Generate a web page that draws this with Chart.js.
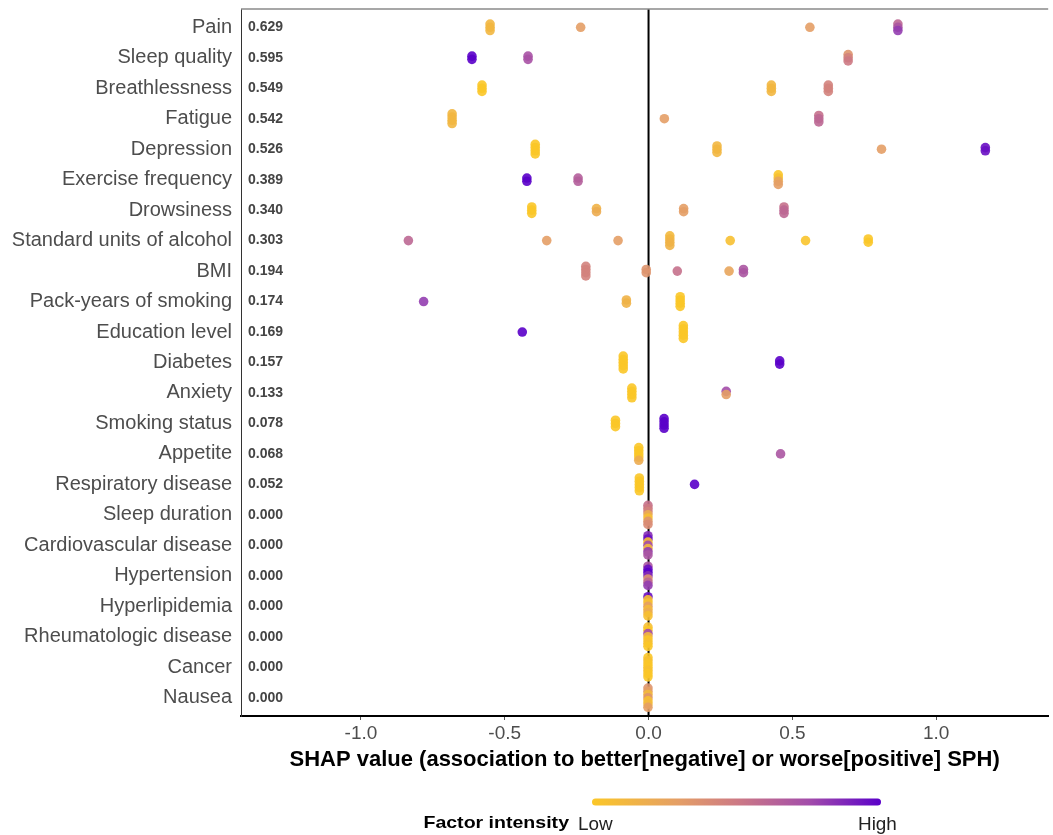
<!DOCTYPE html>
<html>
<head>
<meta charset="utf-8">
<script src="https://cdn.jsdelivr.net/npm/chart.js@4/dist/chart.umd.min.js"></script>
<style>
html, body { margin: 0; padding: 0; background: #fff; overflow: hidden; }
canvas { display: block; }
</style>
</head>
<body>
<canvas id="shap_chart" width="1053" height="835"></canvas>
<script>
// features, top to bottom
const FEATURES = ['Pain', 'Sleep quality', 'Breathlessness', 'Fatigue', 'Depression',
    'Exercise frequency', 'Drowsiness', 'Standard units of alcohol', 'BMI',
    'Pack-years of smoking', 'Education level', 'Diabetes', 'Anxiety', 'Smoking status',
    'Appetite', 'Respiratory disease', 'Sleep duration', 'Cardiovascular disease',
    'Hypertension', 'Hyperlipidemia', 'Rheumatologic disease', 'Cancer', 'Nausea'];
// mean |SHAP| printed next to the axis
const IMPORTANCE = ['0.629', '0.595', '0.549', '0.542', '0.526', '0.389', '0.340', '0.303',
    '0.194', '0.174', '0.169', '0.157', '0.133', '0.078', '0.068', '0.052',
    '0.000', '0.000', '0.000', '0.000', '0.000', '0.000', '0.000'];
const X_TICKS = [-1.0, -0.5, 0.0, 0.5, 1.0];

// SHAP value of each group of points per feature
const SHAP = [
    [-0.551, -0.236, 0.561, 0.867],
    [-0.614, -0.419, 0.694],
    [-0.579, 0.427, 0.625],
    [-0.683, 0.055, 0.592],
    [-0.394, 0.238, 0.81, 1.171],
    [-0.423, -0.245, 0.451],
    [-0.406, -0.181, 0.122, 0.471],
    [-0.835, -0.354, -0.106, 0.074, 0.284, 0.546, 0.764],
    [-0.218, -0.008, 0.1, 0.28, 0.33],
    [-0.782, -0.077, 0.11],
    [-0.439, 0.121],
    [-0.088, 0.456],
    [-0.058, 0.27],
    [-0.115, 0.054],
    [-0.034, 0.459],
    [-0.032, 0.16],
    [-0.002], [-0.002], [-0.002], [-0.002], [-0.002], [-0.002], [-0.002]
];
// factor intensity (0 = low, 1 = high) of every stacked point in each group
const INTENSITY = [
    [[0.12, 0.12, 0.12], [0.3], [0.3], [0.6, 0.7, 0.8]],
    [[1.0, 1.0], [0.72, 0.72], [0.35, 0.45, 0.5]],
    [[0.0, 0.0, 0.0], [0.12, 0.12, 0.12], [0.45, 0.45, 0.45]],
    [[0.12, 0.12, 0.12, 0.12], [0.3], [0.55, 0.6, 0.6]],
    [[0.0, 0.0, 0.0, 0.0], [0.12, 0.12, 0.12], [0.3], [0.95, 0.95]],
    [[1.0, 1.0], [0.65, 0.65], [0.0, 0.05, 0.25, 0.3]],
    [[0.0, 0.0, 0.0], [0.15, 0.2], [0.3, 0.3], [0.55, 0.6, 0.6]],
    [[0.6], [0.3], [0.3], [0.1, 0.12, 0.15, 0.15], [0.05], [0.02], [0.0, 0.0]],
    [[0.45, 0.45, 0.45, 0.45], [0.35, 0.35], [0.55], [0.25], [0.7, 0.7]],
    [[0.8], [0.15, 0.15], [0.0, 0.0, 0.0, 0.0]],
    [[1.0], [0.0, 0.0, 0.0, 0.0, 0.0]],
    [[0.0, 0.0, 0.0, 0.0, 0.0], [1.0, 1.0]],
    [[0.0, 0.0, 0.0, 0.0], [0.75, 0.3]],
    [[0.0, 0.0, 0.0], [1.0, 1.0, 1.0, 1.0]],
    [[0.0, 0.0, 0.0, 0.0, 0.2], [0.7]],
    [[0.0, 0.0, 0.0, 0.0, 0.0], [1.0]],
    [[0.55, 0.5, 0.45, 0.2, 0.05, 0.35, 0.4]],
    [[0.85, 0.95, 0.05, 0.75, 0.1, 0.8, 0.7]],
    [[0.7, 0.95, 1.0, 0.85, 0.35, 0.6, 0.8]],
    [[0.95, 0.05, 0.05, 0.3, 0.1, 0.2, 0.05]],
    [[0.05, 0.0, 0.75, 0.1, 0.0, 0.05, 0.0]],
    [[0.0, 0.05, 0.0, 0.0, 0.05, 0.0, 0.0]],
    [[0.35, 0.3, 0.1, 0.35, 0.05, 0.1, 0.3]]
];

// plasma-like colour ramp, low -> high
const RAMP = [[0, [251, 199, 40]], [0.3, [228, 158, 102]], [0.5, [205, 122, 132]],
    [0.75, [163, 77, 170]], [1, [90, 0, 201]]];

function rampColor(t, alpha) {
    for (var i = 1; i < RAMP.length; i++) {
        if (t <= RAMP[i][0]) {
            var a = RAMP[i - 1], b = RAMP[i];
            var f = (t - a[0]) / (b[0] - a[0]);
            var c = a[1].map(function (v, k) { return Math.round(v + (b[1][k] - v) * f); });
            return 'rgba(' + c.join(',') + ',' + alpha + ')';
        }
    }
    return 'rgba(90,0,201,' + alpha + ')';
}

const STACK_STEP = 0.105;   // vertical gap between stacked points, in rows

var points = [];
var colors = [];
SHAP.forEach(function (row, i) {
    row.forEach(function (val, j) {
        var grp = INTENSITY[i][j];
        grp.forEach(function (t, k) {
            points.push({x: val, y: i + (k - (grp.length - 1) / 2) * STACK_STEP});
            colors.push(rampColor(t, 0.9));
        });
    });
});

var extras = {
    id: 'extras',
    beforeDatasetsDraw: function (chart) {
        var ctx = chart.ctx, area = chart.chartArea;
        var x0 = chart.scales.x.getPixelForValue(0);
        ctx.save();
        ctx.strokeStyle = '#000';
        ctx.lineWidth = 2;
        ctx.beginPath();
        ctx.moveTo(x0, area.top);
        ctx.lineTo(x0, area.bottom);
        ctx.stroke();
        ctx.strokeStyle = '#8a8a8a';
        ctx.lineWidth = 1.5;
        ctx.beginPath();
        ctx.moveTo(area.left, area.top);
        ctx.lineTo(area.right, area.top);
        ctx.stroke();
        ctx.restore();
    },
    afterDraw: function (chart) {
        var ctx = chart.ctx, area = chart.chartArea, ys = chart.scales.y;
        ctx.save();
        // importance values
        ctx.fillStyle = '#444';
        ctx.font = 'bold 14px "Liberation Sans", Arial, sans-serif';
        ctx.textBaseline = 'middle';
        ctx.textAlign = 'left';
        IMPORTANCE.forEach(function (s, i) {
            ctx.fillText(s, area.left + 7, ys.getPixelForValue(i));
        });
        // colour bar legend
        var bx = 592, bw = 289, by = 798.5, bh = 7;
        var grad = ctx.createLinearGradient(bx, 0, bx + bw, 0);
        RAMP.forEach(function (s) { grad.addColorStop(s[0], rampColor(s[0], 1)); });
        ctx.fillStyle = grad;
        ctx.beginPath();
        ctx.roundRect(bx, by, bw, bh, 3.5);
        ctx.fill();

        ctx.fillStyle = '#000';
        ctx.textBaseline = 'alphabetic';
        ctx.textAlign = 'right';
        ctx.font = 'bold 17px "Liberation Sans", Arial, sans-serif';
        ctx.save();
        ctx.translate(569, 828);
        ctx.scale(1.15, 1);
        ctx.fillText('Factor intensity', 0, 0);
        ctx.restore();

        ctx.fillStyle = '#222';
        ctx.font = '18px "Liberation Sans", Arial, sans-serif';
        ctx.textAlign = 'left';
        ctx.save();
        ctx.translate(578, 830);
        ctx.scale(1.05, 1);
        ctx.fillText('Low', 0, 0);
        ctx.restore();
        ctx.save();
        ctx.translate(858, 830);
        ctx.scale(1.05, 1);
        ctx.fillText('High', 0, 0);
        ctx.restore();
        ctx.restore();
    }
};

function noEdgePadding(scale) {
    scale.paddingTop = 0;
    scale.paddingBottom = 0;
    scale.paddingLeft = 0;
    scale.paddingRight = 0;
}

var ctx = document.getElementById('shap_chart').getContext('2d');
var chart = new Chart(ctx, {
    type: 'scatter',
    data: {
        datasets: [{
            data: points,
            pointBackgroundColor: colors,
            pointBorderWidth: 0,
            pointRadius: 4.8,
            pointHoverRadius: 4.8
        }]
    },
    options: {
        responsive: false,
        animation: false,
        devicePixelRatio: 1,
        events: [],
        layout: {padding: {top: 9, right: 0, bottom: 62, left: 0}},
        plugins: {
            legend: {display: false},
            tooltip: {enabled: false}
        },
        scales: {
            x: {
                type: 'linear',
                min: -1.417,
                max: 1.3896,
                afterBuildTicks: function (scale) {
                    scale.ticks = X_TICKS.map(function (v) { return {value: v}; });
                },
                afterFit: function (scale) {
                    scale.height = 57;
                    noEdgePadding(scale);
                },
                grid: {display: true, drawOnChartArea: false, drawTicks: true, tickLength: 4, color: '#555'},
                border: {display: true, color: '#000', width: 2},
                ticks: {
                    color: '#4d4d4d',
                    font: {family: '"Liberation Sans", Arial, sans-serif', size: 19},
                    padding: 2,
                    maxRotation: 0,
                    callback: function (v) { return v.toFixed(1); }
                },
                title: {
                    display: true,
                    text: 'SHAP value (association to better[negative] or worse[positive] SPH)',
                    color: '#000',
                    font: {family: '"Liberation Sans", Arial, sans-serif', size: 22, weight: 'bold'},
                    padding: {top: 0, bottom: 0}
                }
            },
            y: {
                type: 'linear',
                reverse: true,
                min: -0.6,
                max: 22.6,
                afterBuildTicks: function (scale) {
                    scale.ticks = FEATURES.map(function (f, i) { return {value: i}; });
                },
                afterFit: function (scale) {
                    scale.width = 241;
                    noEdgePadding(scale);
                },
                grid: {display: false, drawTicks: false},
                border: {display: true, color: '#333', width: 1},
                ticks: {
                    color: '#4d4d4d',
                    autoSkip: false,
                    padding: 9,
                    font: {family: '"Liberation Sans", Arial, sans-serif', size: 20},
                    callback: function (v) { return FEATURES[v]; }
                }
            }
        }
    },
    plugins: [extras]
});
</script>
</body>
</html>
